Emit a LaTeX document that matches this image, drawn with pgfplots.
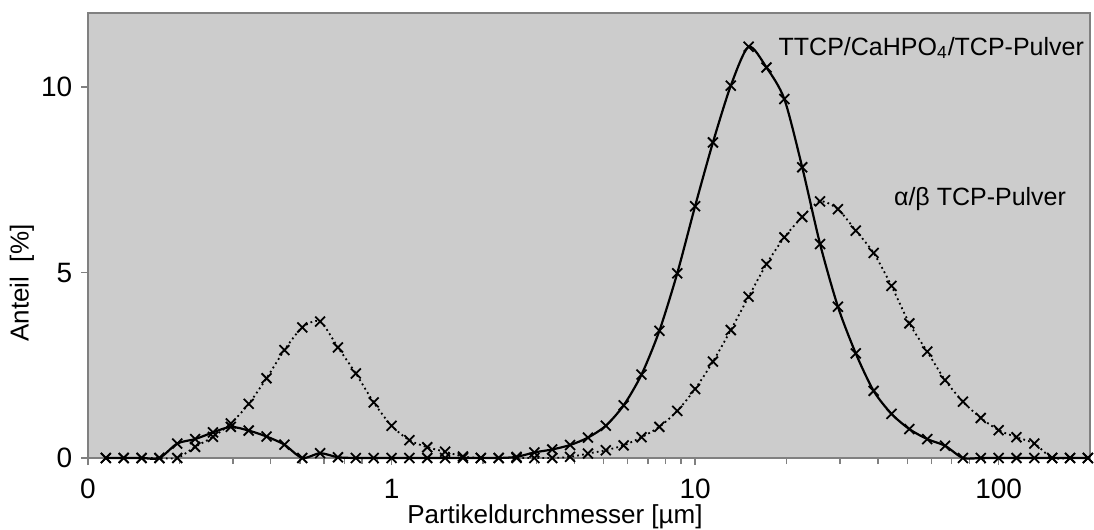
\documentclass[border=0pt]{standalone}
\usepackage{fontspec}
\setmainfont{Liberation Sans}
\usepackage{pgfplots}
\pgfplotsset{compat=1.18}
\definecolor{bgGray}{RGB}{204,204,204}
\definecolor{axGray}{RGB}{128,128,128}
\begin{document}
\fontsize{12.5}{15}\selectfont
\begin{tikzpicture}
\begin{axis}[
  scale only axis, width=501pt, height=222.5pt,
  xmode=log, xmin=0.1, xmax=200, ymin=0, ymax=12,
  axis background/.style={fill=bgGray},
  axis line style={draw=axGray, line width=0.7pt},
  xtick={0.1,1,10,100}, xticklabels={0,1,10,100},
  minor xtick={0.2,0.3,0.4,0.5,0.6,0.7,0.8,0.9,2,3,4,5,6,7,8,9,20,30,40,50,60,70,80,90},
  ytick={0,5,10}, yticklabels={0,5,10},
  tick pos=left, tick align=outside,
  major tick length=3.5pt, minor tick length=3pt,
  tick style={draw=axGray, line width=0.7pt},
  /pgf/number format/assume math mode=true,
  ticklabel style={font=\fontsize{14}{17}\selectfont},
  xticklabel style={anchor=base, yshift=-16.5pt},
  yticklabel style={anchor=east, xshift=0pt},
  clip=false,
  xlabel={Partikeldurchmesser [µm]},
  ylabel={Anteil\ \ [\%]},
  label style={font=\fontsize{13}{16}\selectfont},
  xlabel style={at={(axis description cs:0.466,0)}, anchor=base, yshift=-32.6pt},
  ylabel style={at={(axis description cs:-0.0659,0.393)}, anchor=center, rotate=0},
  every axis plot/.append style={mark=x, mark size=3.5pt, mark options={solid, line width=0.9pt}},
]
\addplot[black, line width=0.9pt, dash pattern=on 0.9pt off 1.6pt, smooth, tension=0.45] coordinates {
(0.11450,0) (0.13111,0) (0.15013,0) (0.17191,0) (0.19684,0) (0.22539,0.30) (0.25808,0.57) (0.29552,0.93)
(0.33838,1.46) (0.38747,2.15) (0.44367,2.91) (0.50802,3.52) (0.58171,3.68) (0.66609,2.98) (0.76270,2.28) (0.87333,1.50)
(1,0.87) (1.1450,0.48) (1.3111,0.29) (1.5013,0.17) (1.7191,0.04) (1.9684,0) (2.2539,0) (2.5808,0)
(2.9552,0) (3.3838,0) (3.8747,0.03) (4.4367,0.12) (5.0802,0.21) (5.8171,0.34) (6.6609,0.56) (7.6270,0.84)
(8.7333,1.27) (10,1.86) (11.450,2.60) (13.111,3.45) (15.013,4.35) (17.191,5.23) (19.684,5.95) (22.539,6.50)
(25.808,6.92) (29.552,6.71) (33.838,6.13) (38.747,5.53) (44.367,4.64) (50.802,3.63) (58.171,2.87) (66.609,2.10)
(76.270,1.52) (87.333,1.08) (100,0.75) (114.50,0.56) (131.11,0.39) (150.13,0) (171.91,0) (196.84,0)
};
\addplot[black, line width=1.1pt, smooth, tension=0.45] coordinates {
(0.11450,0) (0.13111,0) (0.15013,0) (0.17191,0) (0.19684,0.39) (0.22539,0.51) (0.25808,0.69) (0.29552,0.84)
(0.33838,0.74) (0.38747,0.58) (0.44367,0.36) (0.50802,0) (0.58171,0.13) (0.66609,0.02) (0.76270,0) (0.87333,0)
(1,0) (1.1450,0) (1.3111,0) (1.5013,0) (1.7191,0) (1.9684,0) (2.2539,0) (2.5808,0.03)
(2.9552,0.15) (3.3838,0.23) (3.8747,0.35) (4.4367,0.55) (5.0802,0.87) (5.8171,1.42) (6.6609,2.25) (7.6270,3.43)
(8.7333,4.98) (10,6.79) (11.450,8.51) (13.111,10.04) (15.013,11.09) (17.191,10.53) (19.684,9.68) (22.539,7.84)
(25.808,5.77) (29.552,4.08) (33.838,2.82) (38.747,1.81) (44.367,1.19) (50.802,0.78) (58.171,0.51) (66.609,0.33)
(76.270,0) (87.333,0) (100,0) (114.50,0) (131.11,0) (150.13,0) (171.91,0) (196.84,0)
};
\node[anchor=west, inner sep=0pt] at (axis cs:18.8,11.06) {TTCP/CaHPO\textsubscript{4}/TCP-Pulver};
\node[anchor=west, inner sep=0pt] at (axis cs:45.1,6.99) {α/β TCP-Pulver};
\end{axis}
\pgfresetboundingbox
\path (current axis.south west) +(-44pt,-35.5pt) (current axis.north east) +(2pt,6.5pt);
\end{tikzpicture}
\end{document}
